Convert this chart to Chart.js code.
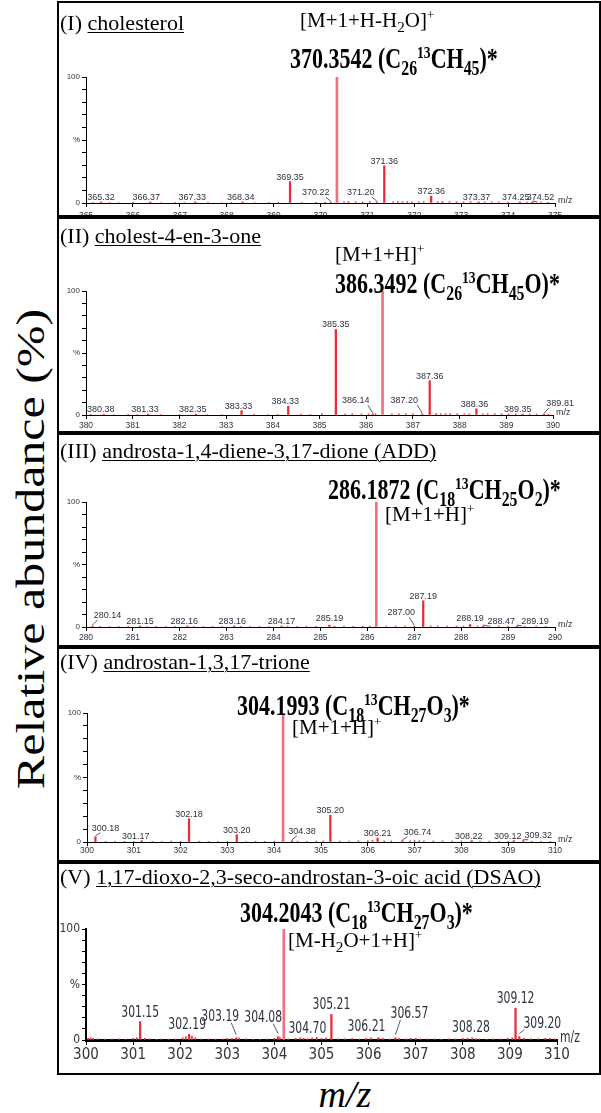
<!DOCTYPE html>
<html><head><meta charset="utf-8">
<script src="https://cdn.jsdelivr.net/npm/chart.js@4.4.1/dist/chart.umd.min.js"></script>
<style>
html,body{margin:0;padding:0;background:#fff;}
#fig{position:relative;width:601px;height:1113px;overflow:hidden;font-family:'Liberation Serif','Times New Roman',serif;color:#000;}
.box{position:absolute;left:57px;width:540px;border:2px solid #000;overflow:hidden;}
.box canvas{position:absolute;left:-59px;}
.t{position:absolute;white-space:nowrap;line-height:1;}
.title{font-size:22px;}
.title u{text-decoration:underline;text-decoration-thickness:1px;text-underline-offset:2px;}
.ion{font-size:21px;}
.bold{font-size:22px;font-weight:bold;transform:scaleY(1.3);transform-origin:0 0;}
sub{font-size:0.72em;vertical-align:-0.3em;line-height:0;}
sup{font-size:0.62em;vertical-align:0.6em;line-height:0;}
#ytitle{position:absolute;left:31px;top:549px;font-size:40px;white-space:nowrap;line-height:1;transform:translate(-50%,-50%) rotate(-90deg) scaleX(1.25);}
#xtitle{position:absolute;left:345px;top:1075px;font-size:38px;font-style:italic;line-height:1;transform:translateX(-50%);}
</style></head>
<body>
<div id="fig">
  <div class="box" style="top:1px;height:212px;"><canvas id="c1" width="601" height="1113" style="top:-3px"></canvas></div>
  <div class="box" style="top:217px;height:212px;"><canvas id="c2" width="601" height="1113" style="top:-219px"></canvas></div>
  <div class="box" style="top:433px;height:210px;"><canvas id="c3" width="601" height="1113" style="top:-435px"></canvas></div>
  <div class="box" style="top:647px;height:211px;"><canvas id="c4" width="601" height="1113" style="top:-649px"></canvas></div>
  <div class="box" style="top:862px;height:209px;"><canvas id="c5" width="601" height="1113" style="top:-864px"></canvas></div>

  <div class="t title" style="left:60px;top:12px;">(I) <u>cholesterol</u></div>
  <div class="t ion" style="left:300px;top:10px;">[M+1+H-H<sub>2</sub>O]<sup>+</sup></div>
  <div class="t bold" style="left:290px;top:45px;">370.3542 (C<sub>26</sub><sup>13</sup>CH<sub>45</sub>)*</div>

  <div class="t title" style="left:60px;top:225px;">(II) <u>cholest-4-en-3-one</u></div>
  <div class="t ion" style="left:335px;top:244px;">[M+1+H]<sup>+</sup></div>
  <div class="t bold" style="left:335px;top:270px;">386.3492 (C<sub>26</sub><sup>13</sup>CH<sub>45</sub>O)*</div>

  <div class="t title" style="left:60px;top:440px;">(III) <u>androsta-1,4-diene-3,17-dione (ADD)</u></div>
  <div class="t bold" style="left:328px;top:476px;">286.1872 (C<sub>18</sub><sup>13</sup>CH<sub>25</sub>O<sub>2</sub>)*</div>
  <div class="t ion" style="left:385px;top:504px;">[M+1+H]<sup>+</sup></div>

  <div class="t title" style="left:60px;top:651px;">(IV) <u>androstan-1,3,17-trione</u></div>
  <div class="t bold" style="left:237px;top:692px;">304.1993 (C<sub>18</sub><sup>13</sup>CH<sub>27</sub>O<sub>3</sub>)*</div>
  <div class="t ion" style="left:292px;top:717px;">[M+1+H]<sup>+</sup></div>

  <div class="t title" style="left:60px;top:866px;">(V) <u>1,17-dioxo-2,3-seco-androstan-3-oic acid (DSAO)</u></div>
  <div class="t bold" style="left:240px;top:899px;">304.2043 (C<sub>18</sub><sup>13</sup>CH<sub>27</sub>O<sub>3</sub>)*</div>
  <div class="t ion" style="left:288px;top:930px;">[M-H<sub>2</sub>O+1+H]<sup>+</sup></div>

  <div id="ytitle">Relative abundance (%)</div>
  <div id="xtitle">m/z</div>
</div>

<script>
// ================= DATA =================
const yTickVals = [0, 50, 100];
const yTickText = ['0', '%', '100'];

// Panel I: cholesterol
const p1Range = [365, 375];
const p1MainMz = [370.35];
const p1MainInt = [100];
const p1PeakMz = [365.32, 366.37, 367.33, 368.34, 369.35, 370.22, 371.20, 371.36, 372.36, 373.37, 374.25, 374.52];
const p1PeakInt = [0.8, 0.8, 0.8, 0.8, 17, 0.6, 0.8, 29.5, 5.5, 0.8, 0.8, 0.8];
const p1NoiseMz = [365.15, 365.5, 365.7, 366.0, 366.6, 366.9, 367.1, 367.6, 367.9, 368.1, 368.6, 368.9, 369.1, 369.6, 369.9, 370.1, 370.5, 370.6, 370.75, 370.9, 371.05, 371.55, 371.65, 371.75, 371.85, 371.95, 372.1, 372.2, 372.5, 372.6, 372.75, 372.9, 373.05, 373.2, 373.5, 373.65, 373.8, 374.0, 374.4, 374.7, 374.85];
const p1NoiseInt = [0.6, 0.5, 0.4, 0.5, 0.4, 0.5, 0.4, 0.5, 0.4, 0.5, 0.4, 0.5, 0.6, 0.5, 0.6, 0.7, 1.0, 1.2, 1.0, 0.9, 1.1, 1.0, 1.2, 1.0, 1.1, 1.0, 1.0, 1.1, 1.0, 1.2, 1.0, 1.0, 0.9, 1.0, 0.8, 0.9, 0.8, 0.7, 0.8, 0.7, 0.6];

// Panel II: cholest-4-en-3-one
const p2Range = [380, 390];
const p2MainMz = [386.35];
const p2MainInt = [100];
const p2PeakMz = [380.38, 381.33, 382.35, 383.33, 384.33, 385.35, 386.14, 387.20, 387.36, 388.36, 389.35, 389.81];
const p2PeakInt = [0.5, 0.8, 0.8, 3.5, 7, 69, 0.8, 0.8, 27.7, 5, 0.8, 0.8];
const p2NoiseMz = [380.1, 380.6, 380.9, 381.1, 381.6, 382.0, 382.6, 382.9, 383.6, 383.9, 384.1, 384.6, 384.8, 385.05, 385.55, 385.7, 385.9, 386.05, 386.2, 386.55, 386.7, 386.85, 387.0, 387.5, 387.6, 387.7, 387.8, 387.95, 388.1, 388.2, 388.5, 388.6, 388.75, 388.9, 389.05, 389.2, 389.5, 389.65, 389.9];
const p2NoiseInt = [0.5, 0.4, 0.5, 0.4, 0.4, 0.4, 0.4, 0.4, 0.5, 0.4, 0.5, 0.6, 0.5, 1.2, 0.8, 1.0, 0.8, 0.9, 1.0, 0.9, 1.0, 0.9, 1.0, 1.2, 1.0, 1.1, 1.0, 1.0, 0.9, 1.0, 1.0, 1.1, 1.0, 1.0, 0.9, 0.9, 0.8, 0.8, 0.6];

// Panel III: ADD
const p3Range = [280, 290];
const p3MainMz = [286.19];
const p3MainInt = [100];
const p3PeakMz = [280.14, 281.15, 282.16, 283.16, 284.17, 285.19, 287.00, 287.19, 288.19, 288.47, 289.19];
const p3PeakInt = [0.8, 0.8, 0.8, 0.8, 0.8, 1.5, 0.5, 21, 2, 0.8, 0.8];
const p3NoiseMz = [280.3, 280.5, 280.7, 280.9, 281.3, 281.5, 281.7, 281.9, 282.3, 282.5, 282.7, 282.9, 283.3, 283.5, 283.7, 283.9, 284.3, 284.5, 284.7, 284.9, 285.3, 285.5, 285.7, 285.9, 286.05, 286.4, 286.6, 286.8, 287.35, 287.5, 287.7, 287.9, 288.05, 288.35, 288.6, 288.8, 289.0, 289.35, 289.6, 289.8];
const p3NoiseInt = [0.5, 0.5, 0.5, 0.5, 0.5, 0.5, 0.5, 0.5, 0.5, 0.5, 0.5, 0.5, 0.5, 0.5, 0.5, 0.5, 0.6, 0.5, 0.6, 0.6, 0.6, 0.7, 0.6, 0.7, 0.8, 0.7, 0.8, 0.7, 0.8, 0.8, 0.8, 0.8, 0.8, 0.8, 0.9, 0.8, 0.8, 0.7, 0.7, 0.6];

// Panel IV: androstan-1,3,17-trione
const p4Range = [300, 310];
const p4MainMz = [304.19];
const p4MainInt = [100];
const p4PeakMz = [300.18, 301.17, 302.18, 303.20, 304.38, 305.20, 306.21, 306.74, 308.22, 309.12, 309.32];
const p4PeakInt = [4, 1, 18, 5.7, 1, 20.7, 3, 1, 1, 1, 1];
const p4NoiseMz = [300.4, 300.6, 300.8, 301.0, 301.4, 301.6, 301.8, 302.0, 302.4, 302.6, 302.8, 303.0, 303.4, 303.6, 303.8, 304.0, 304.5, 304.7, 304.9, 305.05, 305.4, 305.6, 305.8, 306.0, 306.1, 306.35, 306.5, 306.9, 307.0, 307.1, 307.2, 307.4, 307.6, 307.8, 308.0, 308.4, 308.6, 308.8, 309.0, 309.5, 309.7, 309.9];
const p4NoiseInt = [0.5, 0.6, 0.5, 0.5, 0.5, 0.6, 0.7, 0.6, 0.6, 0.5, 0.6, 0.5, 0.5, 0.6, 0.5, 0.6, 0.7, 0.6, 0.7, 0.8, 0.7, 0.8, 0.9, 1.0, 1.2, 0.9, 0.8, 1.0, 1.1, 1.0, 0.9, 0.8, 0.8, 0.7, 0.8, 0.8, 0.7, 0.6, 0.6, 0.6, 0.5, 0.5];

// Panel V: DSAO
const p5Range = [300, 310];
const p5MainMz = [304.20];
const p5MainInt = [100];
const p5PeakMz = [301.15, 302.19, 303.19, 304.08, 304.70, 305.21, 306.21, 306.57, 308.28, 309.12, 309.20];
const p5PeakInt = [16.5, 5, 2, 3, 1, 23, 2, 2, 1, 28.6, 3];
const p5NoiseMz = [300.05, 300.1, 300.15, 300.25, 300.4, 300.55, 300.7, 300.85, 301.0, 301.08, 301.25, 301.35, 301.5, 301.6, 301.75, 301.9, 302.05, 302.12, 302.25, 302.32, 302.45, 302.6, 302.75, 302.9, 303.0, 303.1, 303.25, 303.4, 303.55, 303.7, 303.85, 304.0, 304.12, 304.3, 304.45, 304.55, 304.62, 304.8, 304.9, 305.0, 305.1, 305.35, 305.5, 305.65, 305.8, 305.95, 306.05, 306.3, 306.45, 306.65, 306.8, 306.9, 307.0, 307.1, 307.25, 307.4, 307.55, 307.7, 307.85, 308.0, 308.1, 308.2, 308.35, 308.5, 308.65, 308.8, 308.95, 309.05, 309.3, 309.45, 309.6, 309.75, 309.85, 309.95];
const p5NoiseInt = [1.5, 2.0, 1.5, 1.0, 0.8, 0.8, 1.0, 0.8, 1.5, 2.0, 1.5, 1.0, 0.8, 1.0, 0.8, 1.0, 2.0, 3.0, 3.5, 2.0, 1.0, 1.0, 0.8, 1.0, 1.5, 1.5, 2.0, 1.0, 0.8, 0.8, 1.0, 1.5, 2.0, 1.0, 1.5, 2.0, 1.5, 2.0, 2.5, 1.5, 2.0, 1.0, 1.0, 1.5, 1.0, 1.5, 2.0, 1.5, 1.0, 1.5, 1.0, 1.5, 1.5, 1.0, 1.0, 1.0, 0.8, 1.0, 1.0, 1.5, 1.5, 2.0, 1.0, 0.8, 1.0, 1.0, 1.5, 2.0, 1.5, 1.0, 1.0, 1.5, 1.5, 1.0];

// ================= STYLE (label placement: [dx px, extra lift px, leader]) =================
const p1LabelPos = [[0,0,0],[-4,0,0],[-3,0,0],[-2,0,0],[0,0,0],[-15,5,1],[-16,5,1],[0,0,0],[0,0,0],[-2,0,0],[-4,0,0],[8,0,1]];
const p2LabelPos = [[-3,0,0],[-3,0,0],[-3,0,0],[-3,0,0],[-3,0,0],[0,0,0],[-17,9,1],[-18,9,1],[0,0,0],[-2,0,0],[-5,0,0],[16,6,1]];
const p3LabelPos = [[15,6,1],[0,0,0],[-3,0,0],[-2,0,0],[0,0,0],[0,2,0],[-13,9,1],[0,0,0],[0,2,0],[18,0,1],[18,0,1]];
const p4LabelPos = [[10,4,1],[-6,0,0],[0,0,0],[0,0,0],[10,5,1],[0,0,0],[0,0,0],[15,4,1],[-3,0,0],[-6,0,0],[15,1,1]];
const p5LabelPos = [[0,0,0],[-2,0,0],[-16,12,1],[-15,10,1],[0,1,0],[0,0,0],[-12,2,0],[14,15,1],[-5,2,0],[0,0,0],[23,4,1]];

const SMALL = {tick:"8.5px 'Liberation Sans', Arial, sans-serif", ytick:"8px 'Liberation Sans', Arial, sans-serif",
  label:"9px 'Liberation Sans', Arial, sans-serif", labelScale:1, gap:2, xAxisW:1, yAxisW:1, xTickLen:4};
const BIG = {tick:"15px 'Liberation Sans Narrow', 'DejaVu Sans Condensed', Arial, sans-serif",
  ytick:"12px 'Liberation Sans Narrow', 'DejaVu Sans Condensed', Arial, sans-serif",
  label:"12px 'Liberation Sans Narrow', 'DejaVu Sans Condensed', Arial, sans-serif", labelScale:1.25, gap:5, xAxisW:3, yAxisW:2, xTickLen:5};

const panels = [
  {id:'c1', range:p1Range, mainMz:p1MainMz, mainInt:p1MainInt, peakMz:p1PeakMz, peakInt:p1PeakInt, noiseMz:p1NoiseMz, noiseInt:p1NoiseInt, pos:p1LabelPos,
   area:{l:86,r:555,t:77,b:203}, xPad:4, st:SMALL},
  {id:'c2', range:p2Range, mainMz:p2MainMz, mainInt:p2MainInt, peakMz:p2PeakMz, peakInt:p2PeakInt, noiseMz:p2NoiseMz, noiseInt:p2NoiseInt, pos:p2LabelPos,
   area:{l:86,r:553,t:291,b:415}, xPad:2, st:SMALL},
  {id:'c3', range:p3Range, mainMz:p3MainMz, mainInt:p3MainInt, peakMz:p3PeakMz, peakInt:p3PeakInt, noiseMz:p3NoiseMz, noiseInt:p3NoiseInt, pos:p3LabelPos,
   area:{l:86,r:555,t:502,b:627}, xPad:2, st:SMALL},
  {id:'c4', range:p4Range, mainMz:p4MainMz, mainInt:p4MainInt, peakMz:p4PeakMz, peakInt:p4PeakInt, noiseMz:p4NoiseMz, noiseInt:p4NoiseInt, pos:p4LabelPos,
   area:{l:87,r:555,t:713,b:842}, xPad:0, st:SMALL},
  {id:'c5', range:p5Range, mainMz:p5MainMz, mainInt:p5MainInt, peakMz:p5PeakMz, peakInt:p5PeakInt, noiseMz:p5NoiseMz, noiseInt:p5NoiseInt, pos:p5LabelPos,
   area:{l:86,r:557,t:929,b:1040}, xPad:1, st:BIG}
];

const peakLabelPlugin = {
  id: 'peakLabels',
  afterDatasetsDraw(chart, args, o) {
    const ctx = chart.ctx, xs = chart.scales.x, ys = chart.scales.y, ca = chart.chartArea;
    ctx.save();
    ctx.font = o.font; ctx.fillStyle = '#2f3040'; ctx.strokeStyle = '#2f3040'; ctx.lineWidth = 0.8;
    ctx.textAlign = 'center'; ctx.textBaseline = 'alphabetic';
    o.mz.forEach((m, i) => {
      const [dx, lift, leader] = o.pos[i];
      const px = xs.getPixelForValue(m), py = ys.getPixelForValue(o.it[i]);
      const lx = px + dx, ly = py - o.gap - lift;
      ctx.save(); ctx.translate(lx, ly); ctx.scale(1, o.scale);
      ctx.fillText(m.toFixed(2), 0, 0); ctx.restore();
      if (leader) {
        const sx = px + (dx < 0 ? -5 : 5);
        ctx.beginPath(); ctx.moveTo(sx, ly + 2); ctx.lineTo(px, Math.min(py - 1, ly + 2 + Math.max(4, lift))); ctx.stroke();
      }
    });
    // m/z at axis end
    ctx.textAlign = 'left'; ctx.textBaseline = 'middle';
    ctx.save(); ctx.translate(ca.right + 3, ca.bottom - 2); ctx.scale(1, o.scale);
    ctx.fillText('m/z', 0, 0); ctx.restore();
    ctx.restore();
  }
};

panels.forEach(P => {
  const st = P.st, a = P.area;
  const toXY = (mz, it) => mz.map((m, i) => ({x: m, y: it[i]}));
  new Chart(document.getElementById(P.id), {
    type: 'bar',
    data: {datasets: [
      {data: toXY(P.noiseMz, P.noiseInt), backgroundColor: 'rgb(226,60,66)', barThickness: 1, grouped: false, borderWidth: 0},
      {data: toXY(P.peakMz, P.peakInt), backgroundColor: 'rgb(232,44,56)', barThickness: 1.6, grouped: false, borderWidth: 0},
      {data: toXY(P.mainMz, P.mainInt), backgroundColor: 'rgb(242,112,124)', barThickness: 2, grouped: false, borderWidth: 0}
    ]},
    options: {
      responsive: false, animation: false, devicePixelRatio: 1, events: [],
      layout: {padding: {left: a.l - 30, right: 601 - a.r, top: a.t, bottom: 1113 - a.b - 40}},
      plugins: {legend: {display: false}, tooltip: {enabled: false},
        peakLabels: {mz: P.peakMz, it: P.peakInt, pos: P.pos, font: st.label, scale: st.labelScale, gap: st.gap}},
      scales: {
        x: {type: 'linear', min: P.range[0], max: P.range[1], offset: false,
          afterFit: s => { s.height = 40; },
          grid: {display: true, drawOnChartArea: false, drawTicks: true, tickLength: st.xTickLen, color: '#000', offset: false},
          border: {display: true, color: '#000', width: st.xAxisW},
          ticks: {stepSize: 1, autoSkip: false, maxRotation: 0, minRotation: 0, padding: P.xPad,
            font: {family: st.tick.split('px ')[1], size: parseFloat(st.tick)}, color: '#333340',
            callback: v => Number.isInteger(v) ? String(v) : ''}},
        y: {type: 'linear', min: 0, max: 100,
          afterFit: s => { s.width = 30; },
          grid: {display: true, drawOnChartArea: false, drawTicks: true, tickLength: 4, color: '#000'},
          border: {display: true, color: '#000', width: st.yAxisW},
          ticks: {stepSize: 10, autoSkip: false, padding: 2,
            font: {family: st.ytick.split('px ')[1], size: parseFloat(st.ytick)}, color: '#333340',
            callback: v => { const k = yTickVals.indexOf(v); return k >= 0 ? yTickText[k] : ''; }}}
      }
    },
    plugins: [peakLabelPlugin]
  });
});
</script>
</body></html>
